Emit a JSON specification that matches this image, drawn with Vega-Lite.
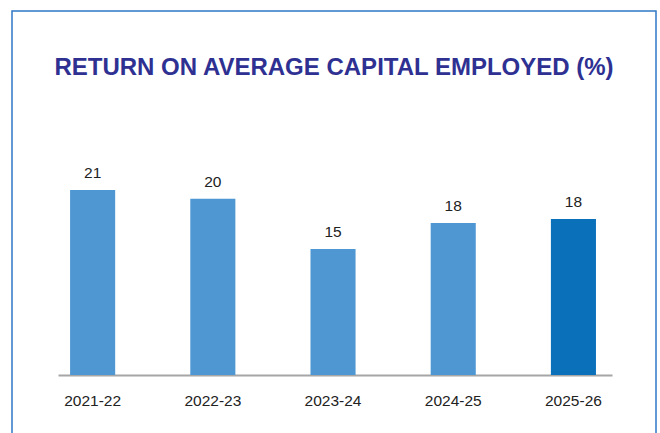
{
  "$schema": "https://vega.github.io/schema/vega-lite/v6.json",
  "autosize": "none",
  "padding": {"left": 12, "top": 11, "right": 4, "bottom": -6},
  "width": 644,
  "height": 428,
  "background": "white",
  "config": {"view": {"stroke": "#2f77c6", "strokeWidth": 1.5}, "font": "Liberation Sans"},
  "title": {"text": "RETURN ON AVERAGE CAPITAL EMPLOYED (%)", "anchor": "middle", "frame": "group", "orient": "top", "offset": -88, "baseline": "alphabetic", "fontSize": 24, "fontWeight": "bold", "color": "#2e3192", "font": "Liberation Sans"},
  "data": {"values": [
    {"year": "2021-22", "value": 21, "label": "21"},
    {"year": "2022-23", "value": 20, "label": "20"},
    {"year": "2023-24", "value": 14.3, "label": "15"},
    {"year": "2024-25", "value": 17.25, "label": "18"},
    {"year": "2025-26", "value": 17.7, "label": "18"}
  ]},
  "encoding": {
    "x": {"field": "year", "type": "nominal", "sort": null,
      "scale": {"range": [46, 600], "paddingInner": 0.625, "paddingOuter": 0.117, "align": 0.43},
      "axis": {"title": null, "domainColor": "#a6a6a6", "domainWidth": 2, "ticks": false, "labelPadding": 18, "labelFontSize": 15.5, "labelColor": "#222222", "labelAngle": 0, "offset": -64, "grid": false, "labelFont": "Liberation Sans"}},
    "y": {"field": "value", "type": "quantitative", "scale": {"domain": [0, 24], "range": [364, 152.5]}, "axis": null}
  },
  "layer": [
    {"mark": {"type": "bar"},
     "encoding": {"color": {"condition": {"test": "datum.year === '2025-26'", "value": "#0b70ba"}, "value": "#4e97d2"}}},
    {"mark": {"type": "text", "dy": -12, "baseline": "alphabetic", "fontSize": 15.5, "color": "#222222", "font": "Liberation Sans"},
     "encoding": {"text": {"field": "label"}}}
  ]
}
